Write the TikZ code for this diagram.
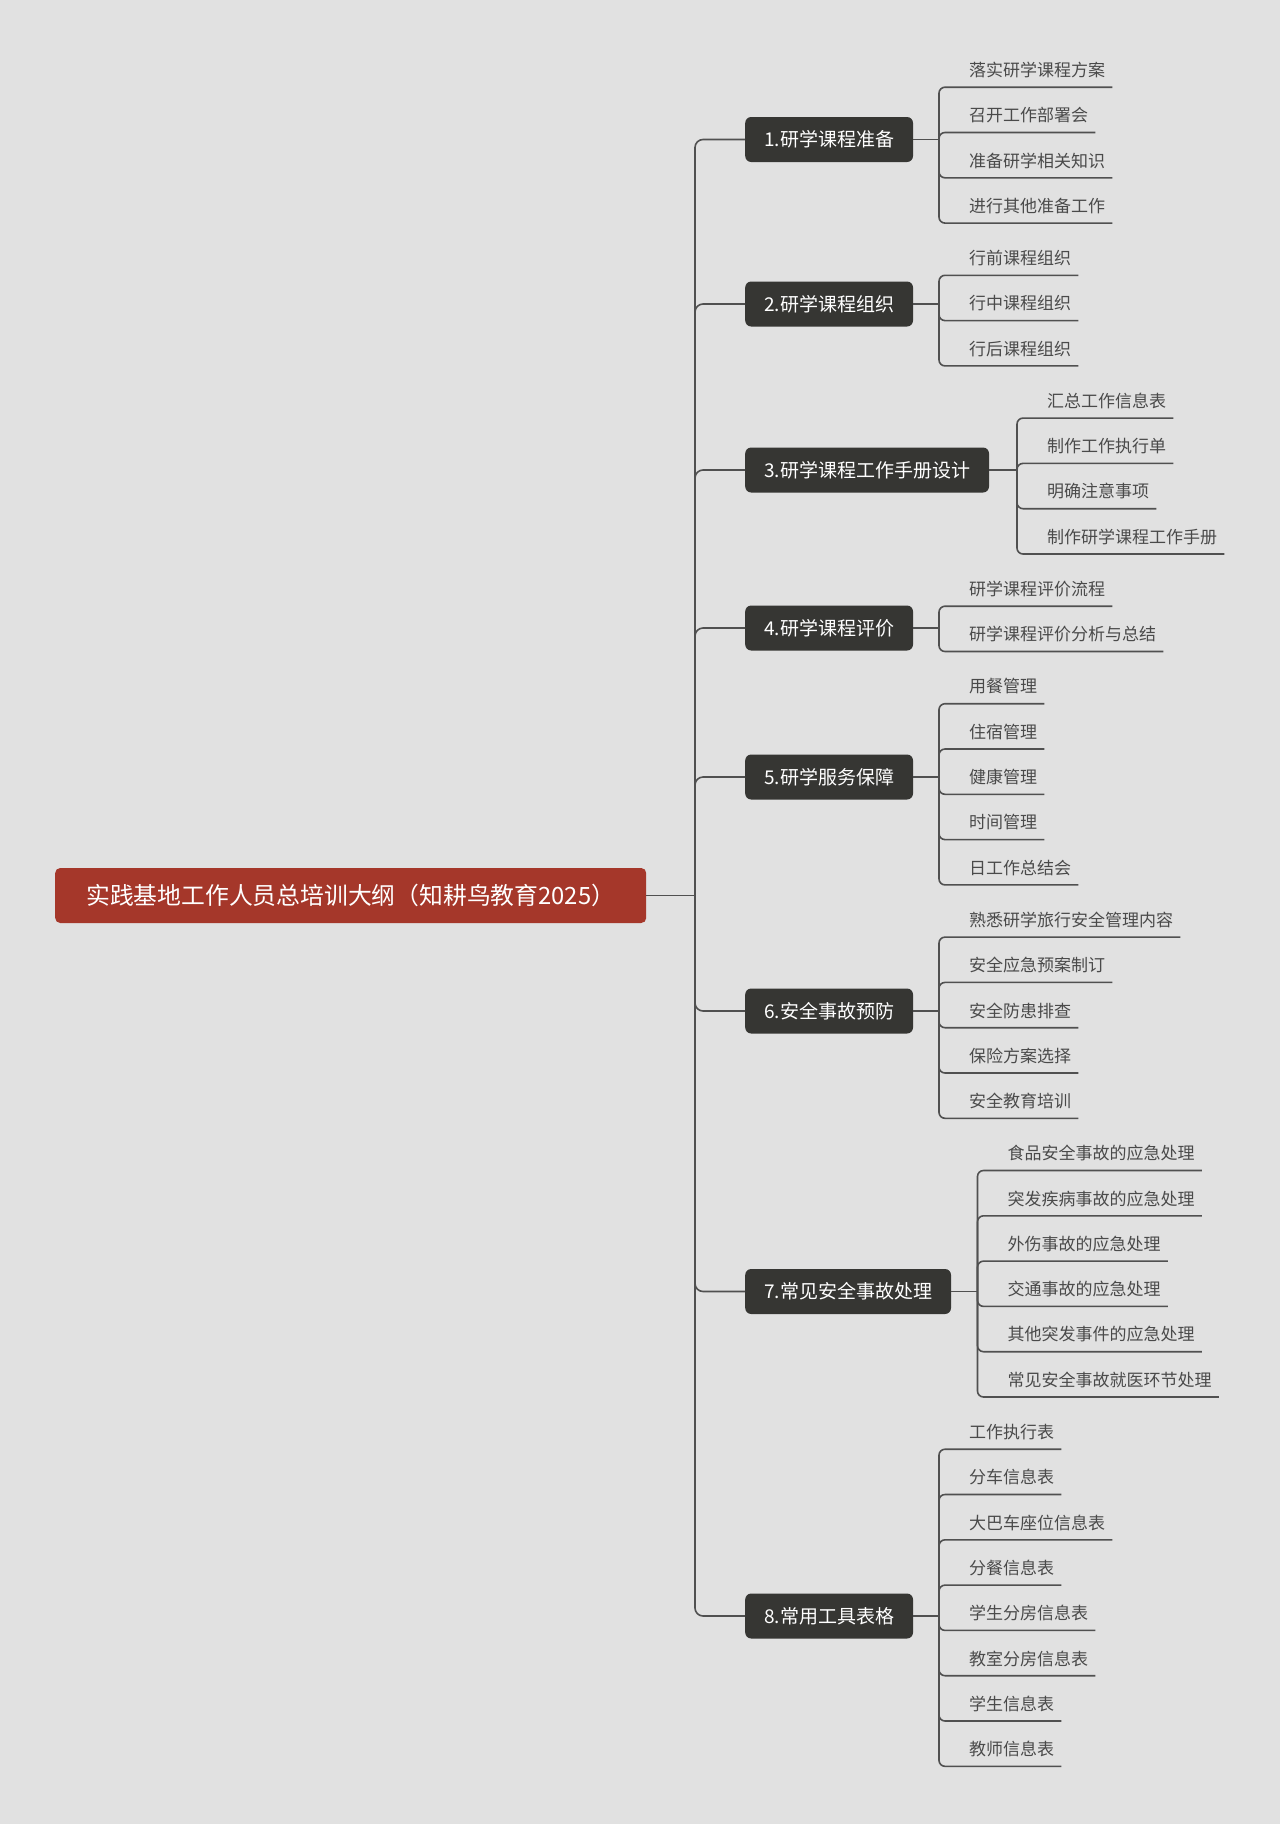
\documentclass[tikz,border=0pt]{standalone}
\usepackage{fontspec}
\setmainfont{Noto Sans CJK SC}
\definecolor{bg}{HTML}{E1E1E1}
\definecolor{linec}{HTML}{505050}
\definecolor{boxdark}{HTML}{363633}
\definecolor{rootred}{HTML}{A5372A}
\definecolor{leafc}{HTML}{4A4A4A}
\tikzset{
  conn/.style={draw=linec, line width=1.6pt, rounded corners=6pt},
  trunkconn/.style={draw=linec, line width=1.6pt, rounded corners=8pt},
  rootbox/.style={fill=rootred, rounded corners=5pt, text=white, minimum width=591pt, minimum height=55pt, inner sep=0pt, font=\fontsize{23.8}{24}\selectfont, anchor=west},
  branchbox/.style={fill=boxdark, rounded corners=6pt, text=white, inner xsep=19pt, inner ysep=0pt, minimum height=45pt, font=\fontsize{19}{19}\selectfont, anchor=west},
  leaf/.style={anchor=west, inner xsep=7pt, inner ysep=0pt, minimum height=34pt, text=leafc, font=\fontsize{17}{17}\selectfont}
}
\begin{document}
\begin{tikzpicture}[x=1pt,y=-1pt]
\fill[bg] (0,0) rectangle (1280,1824);
\useasboundingbox (0,0) rectangle (1280,1824);

\node[rootbox] (root) at (55,895.5) {实践基地工作人员总培训大纲（知耕鸟教育2025）};
\coordinate (t) at (695,895.5);
\draw[conn] (root.east) -- (t);

\node[branchbox] (b1) at (745,139.5) {1.研学课程准备};
\node[branchbox] (b2) at (745,304) {2.研学课程组织};
\node[branchbox] (b3) at (745,470) {3.研学课程工作手册设计};
\node[branchbox] (b4) at (745,628) {4.研学课程评价};
\node[branchbox] (b5) at (745,777) {5.研学服务保障};
\node[branchbox] (b6) at (745,1011) {6.安全事故预防};
\node[branchbox] (b7) at (745,1291.5) {7.常见安全事故处理};
\node[branchbox] (b8) at (745,1616) {8.常用工具表格};

\foreach \b in {b1,b2,b3,b4,b5,b6,b7,b8} {
  \draw[trunkconn] (t) |- (\b.west);
}

\coordinate (j1) at (939,139.5);
\coordinate (j2) at (939,304);
\coordinate (j3) at (1017,470);
\coordinate (j4) at (939,628);
\coordinate (j5) at (939,777);
\coordinate (j6) at (939,1011);
\coordinate (j7) at (977.5,1291.5);
\coordinate (j8) at (939,1616);
\foreach \i in {1,...,8} {
  \draw[conn] (b\i.east) -- (j\i);
}

\foreach \t/\y [count=\i] in {落实研学课程方案/70, 召开工作部署会/115.3, 准备研学相关知识/160.6, 进行其他准备工作/205.9} {
  \node[leaf] (ga\i) at (962,\y) {\t};
  \draw[conn] (j1) |- (ga\i.south east);
}
\foreach \t/\y [count=\i] in {行前课程组织/258.1, 行中课程组织/303.4, 行后课程组织/348.7} {
  \node[leaf] (gb\i) at (962,\y) {\t};
  \draw[conn] (j2) |- (gb\i.south east);
}
\foreach \t/\y [count=\i] in {汇总工作信息表/400.9, 制作工作执行单/446.2, 明确注意事项/491.5, 制作研学课程工作手册/536.8} {
  \node[leaf] (gc\i) at (1040,\y) {\t};
  \draw[conn] (j3) |- (gc\i.south east);
}
\foreach \t/\y [count=\i] in {研学课程评价流程/589.0, 研学课程评价分析与总结/634.3} {
  \node[leaf] (gd\i) at (962,\y) {\t};
  \draw[conn] (j4) |- (gd\i.south east);
}
\foreach \t/\y [count=\i] in {用餐管理/686.5, 住宿管理/731.8, 健康管理/777.1, 时间管理/822.4, 日工作总结会/867.7} {
  \node[leaf] (ge\i) at (962,\y) {\t};
  \draw[conn] (j5) |- (ge\i.south east);
}
\foreach \t/\y [count=\i] in {熟悉研学旅行安全管理内容/919.9, 安全应急预案制订/965.2, 安全防患排查/1010.5, 保险方案选择/1055.8, 安全教育培训/1101.1} {
  \node[leaf] (gf\i) at (962,\y) {\t};
  \draw[conn] (j6) |- (gf\i.south east);
}
\foreach \t/\y [count=\i] in {食品安全事故的应急处理/1153.3, 突发疾病事故的应急处理/1198.6, 外伤事故的应急处理/1243.9, 交通事故的应急处理/1289.2, 其他突发事件的应急处理/1334.5, 常见安全事故就医环节处理/1379.8} {
  \node[leaf] (gg\i) at (1000.5,\y) {\t};
  \draw[conn] (j7) |- (gg\i.south east);
}
\foreach \t/\y [count=\i] in {工作执行表/1432.0, 分车信息表/1477.3, 大巴车座位信息表/1522.6, 分餐信息表/1567.9, 学生分房信息表/1613.2, 教室分房信息表/1658.5, 学生信息表/1703.8, 教师信息表/1749.1} {
  \node[leaf] (gh\i) at (962,\y) {\t};
  \draw[conn] (j8) |- (gh\i.south east);
}
\end{tikzpicture}
\end{document}
